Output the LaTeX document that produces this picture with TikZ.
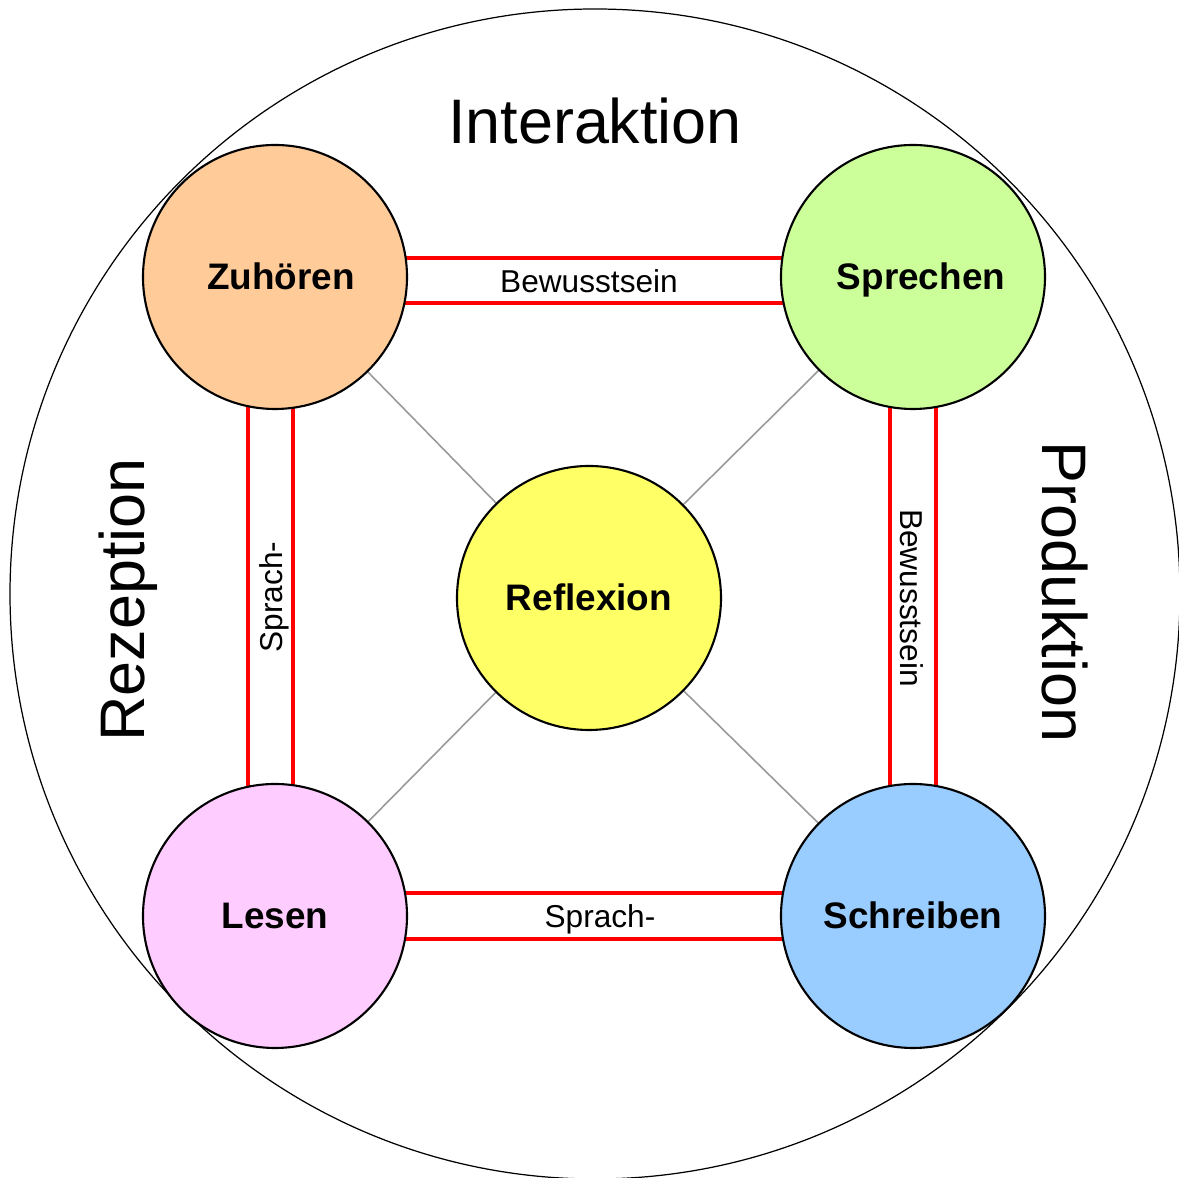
\documentclass[tikz,border=0pt]{standalone}
\usepackage{fontspec}
\setmainfont{Liberation Sans}
\usetikzlibrary{backgrounds}
\definecolor{czu}{HTML}{FFCC99}
\definecolor{csp}{HTML}{CCFF99}
\definecolor{cre}{HTML}{FFFF66}
\definecolor{cle}{HTML}{FFCCFF}
\definecolor{csc}{HTML}{99CCFF}
\definecolor{redbar}{HTML}{FF0000}
\begin{document}
\begin{tikzpicture}[x=0.1mm,y=-0.1mm,
  skill/.style={circle,draw=black,line width=0.6pt,minimum size=26.4mm,inner sep=0pt,
    text height=0.73em,text depth=0pt,
    font=\fontsize{10.5pt}{12pt}\selectfont\bfseries},
  bar/.style={draw=redbar,line width=1pt},
  spoke/.style={draw=black!40,line width=0.45pt},
  big/.style={font=\fontsize{17.9pt}{20pt}\selectfont,text height=0.73em,text depth=0pt},
  small/.style={font=\fontsize{9pt}{11pt}\selectfont,text height=0.73em,text depth=0pt}]
\useasboundingbox (0,0) rectangle (1179,1178);
\draw[line width=0.35pt] (595,594) circle[radius=58.5mm];

\node[skill,fill=czu] (zu) at (275,277) {\hspace*{1.2mm}Zuhören};
\node[skill,fill=csp] (sp) at (913,277) {\hspace*{1.6mm}Sprechen};
\node[skill,fill=cre] (re) at (589,598) {Reflexion};
\node[skill,fill=cle] (le) at (275,916) {Lesen};
\node[skill,fill=csc] (sc) at (913,916) {Schreiben};

\begin{scope}[on background layer]
  \fill[white] (0,0) rectangle (1179,1178);
  \draw[spoke] (zu.center) -- (re.center);
  \draw[spoke] (sp.center) -- (re.center);
  \draw[spoke] (le.center) -- (re.center);
  \draw[spoke] (sc.center) -- (re.center);
  \draw[bar] (zu.center |- 0,258) -- (sp.center |- 0,258);
  \draw[bar] (zu.center |- 0,303) -- (sp.center |- 0,303);
  \draw[bar] (le.center |- 0,893) -- (sc.center |- 0,893);
  \draw[bar] (le.center |- 0,939) -- (sc.center |- 0,939);
  \draw[bar] (zu.center -| 248,0) -- (le.center -| 248,0);
  \draw[bar] (zu.center -| 293,0) -- (le.center -| 293,0);
  \draw[bar] (sp.center -| 890,0) -- (sc.center -| 890,0);
  \draw[bar] (sp.center -| 936,0) -- (sc.center -| 936,0);
\end{scope}

\node[small] (lbtop) at (589,280) {Bewusstsein};
\node[small] (lbbot) at (600,915) {Sprach-};
\node[small,rotate=90] (lbleft) at (270,597) {Sprach-};
\node[small,rotate=-90] (lbright) at (913,598) {Bewusstsein};

\node[big] (inter) at (595,131) {Interaktion};
\node[big,rotate=90] (rez) at (132,600) {Rezeption};
\node[big,rotate=-90] (prod) at (1055,592) {Produktion};
\end{tikzpicture}
\end{document}
